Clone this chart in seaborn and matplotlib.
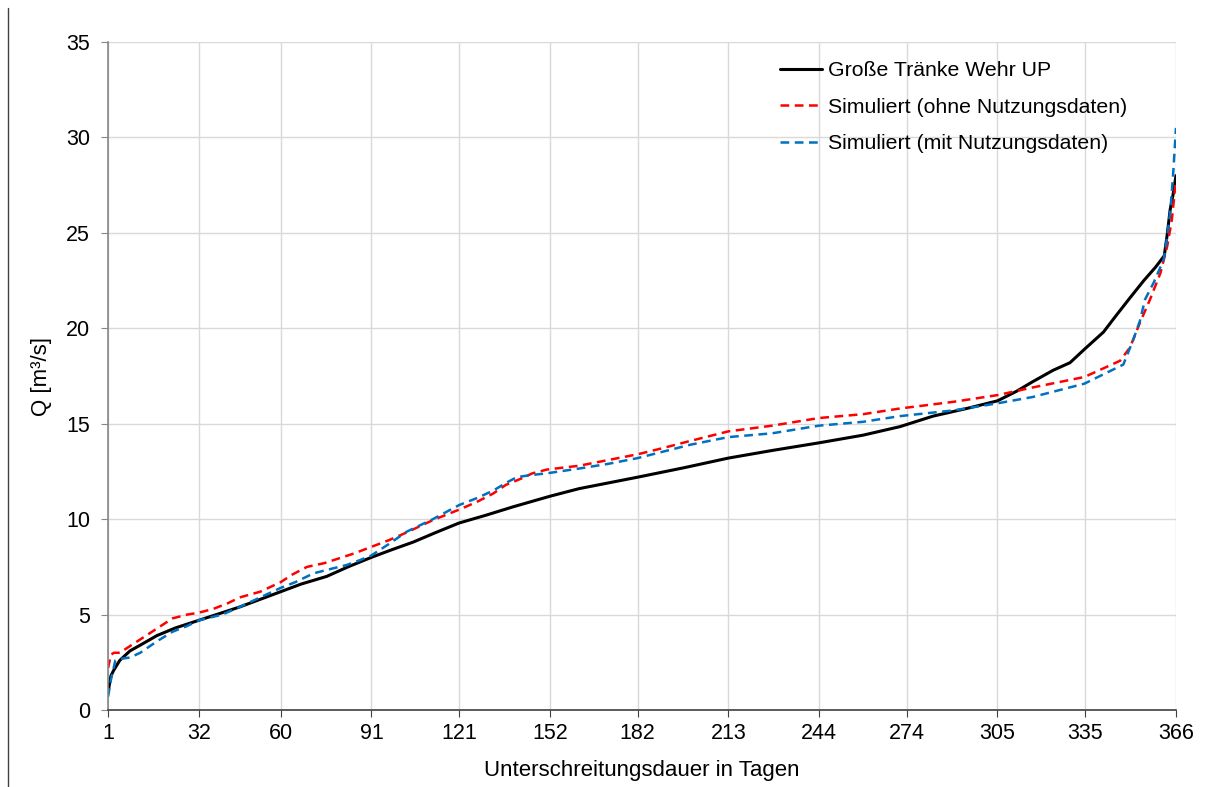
import matplotlib
matplotlib.use("Agg")
import matplotlib.pyplot as plt
from matplotlib.lines import Line2D
import seaborn as sns

# Dauerlinien: Tage und Abfluss Q [m3/s]
days_obs = [1, 1.3, 2, 3, 5, 8.5, 12, 17.7, 24, 32, 40, 46, 53, 60, 67, 75.7, 83, 91, 98,
            105.3, 113, 121, 130, 139.5, 152, 162, 172, 182, 198, 213, 228, 244, 259, 271.7,
            283, 294.5, 305, 311.5, 317, 324, 329.8, 334.7, 341.2, 345.7, 350.3, 355, 359,
            362, 363, 364, 365, 366]
q_obs = [0.9, 1.2, 1.8, 2.1, 2.6, 3.1, 3.4, 3.9, 4.3, 4.7, 5.1, 5.4, 5.8, 6.2, 6.6, 7.0,
         7.5, 8.0, 8.4, 8.8, 9.3, 9.8, 10.2, 10.65, 11.2, 11.6, 11.9, 12.2, 12.7, 13.2, 13.6,
         14.0, 14.4, 14.85, 15.4, 15.8, 16.2, 16.7, 17.2, 17.8, 18.2, 18.9, 19.8, 20.7, 21.6,
         22.5, 23.2, 23.8, 24.9, 26.2, 27.0, 28.0]

days_ohne = [1, 2, 3, 5, 8, 12, 17, 23, 28, 32, 37, 42, 46, 53, 60, 64, 69, 75, 80, 85, 91,
             97, 103, 112, 121, 127, 132.7, 137, 141.8, 146, 151, 162, 172, 182, 190, 200,
             213, 228, 244, 259, 271.7, 290, 305, 317, 334.7, 346.9, 350.3, 353.7, 357.1,
             360.7, 363, 364.6, 366]
q_ohne = [2.2, 2.9, 3.0, 3.0, 3.3, 3.7, 4.2, 4.8, 5.0, 5.1, 5.3, 5.6, 5.9, 6.2, 6.7, 7.1,
          7.5, 7.7, 7.95, 8.2, 8.55, 8.9, 9.3, 9.95, 10.5, 10.9, 11.35, 11.8, 12.1, 12.4, 12.6,
          12.8, 13.1, 13.4, 13.7, 14.1, 14.6, 14.9, 15.3, 15.5, 15.8, 16.15, 16.5, 16.9, 17.45,
          18.3, 19.0, 20.3, 21.5, 22.9, 24.3, 25.7, 27.8]

days_mit = [1, 2, 3.5, 6, 8.5, 12, 17.7, 23, 28, 32, 40, 46, 53, 60, 65, 71.2, 76, 82.6, 87,
            91, 97, 103, 112, 121, 127, 132.7, 137, 140.7, 145, 150.9, 162.3, 172, 182, 200,
            213, 228, 244, 259, 271.7, 290, 305, 317, 334.7, 348, 351.4, 353.7, 355.4, 358.4,
            361.8, 363, 364.1, 365, 366]
q_mit = [0.7, 1.6, 2.6, 2.7, 2.75, 3.0, 3.6, 4.1, 4.4, 4.7, 5.0, 5.4, 5.9, 6.4, 6.7, 7.16,
         7.35, 7.6, 7.85, 8.1, 8.7, 9.34, 10.0, 10.74, 11.1, 11.5, 11.9, 12.2, 12.3, 12.4,
         12.66, 12.9, 13.2, 13.9, 14.3, 14.5, 14.9, 15.1, 15.4, 15.7, 16.07, 16.4, 17.1, 18.1,
         19.4, 20.4, 21.5, 22.4, 23.6, 24.8, 26.2, 28.0, 30.5]

x_ticks = [1, 32, 60, 91, 121, 152, 182, 213, 244, 274, 305, 335, 366]
labels = ["Große Tränke Wehr UP", "Simuliert (ohne Nutzungsdaten)",
          "Simuliert (mit Nutzungsdaten)"]

sns.set_style("white")
plt.rcParams['font.family'] = ['Liberation Sans', 'DejaVu Sans']
plt.rcParams['text.color'] = 'black'
plt.rcParams['axes.labelcolor'] = 'black'
plt.rcParams['xtick.color'] = 'black'
plt.rcParams['ytick.color'] = 'black'

fig = plt.figure(figsize=(12.06, 7.87), dpi=100)
ax = fig.add_axes([0.0896, 0.0978, 0.8855, 0.8488])

sns.lineplot(x=days_obs, y=q_obs, ax=ax, color="black", lw=2.2, label=labels[0])
sns.lineplot(x=days_ohne, y=q_ohne, ax=ax, color="#FF0000", lw=1.8, label=labels[1])
sns.lineplot(x=days_mit, y=q_mit, ax=ax, color="#0070C0", lw=1.8, label=labels[2])
for line in ax.lines[1:3]:
    line.set_dashes((3.5, 2.2))

ax.set_xlim(1, 366)
ax.set_ylim(0, 35)
ax.set_xticks(x_ticks)
ax.set_yticks(range(0, 36, 5))
ax.grid(True, color="#D9D9D9", lw=1)
ax.set_axisbelow(True)
for s in ["top", "right"]:
    ax.spines[s].set_visible(False)
ax.spines["left"].set_color("#868686")
ax.spines["bottom"].set_color("#404040")
for s in ["left", "bottom"]:
    ax.spines[s].set_linewidth(1.2)
ax.tick_params(axis="both", direction="out", length=5, labelsize=15.5, left=True,
               bottom=True)
ax.tick_params(axis="y", color="#868686", pad=8)
ax.tick_params(axis="x", color="#404040", pad=4)
ax.set_xlabel("Unterschreitungsdauer in Tagen", fontsize=16, labelpad=12)
ax.set_ylabel("Q [m³/s]", fontsize=16, labelpad=10)

ax.legend(loc="upper left", bbox_to_anchor=(0.611, 1.0), frameon=False, fontsize=15.3,
          handlelength=1.98, handletextpad=0.28, labelspacing=0.82)

fig.add_artist(Line2D([0.0066, 0.0066], [0, 0.99], color="#404040", lw=1))

fig.savefig("out.png", dpi=100)
